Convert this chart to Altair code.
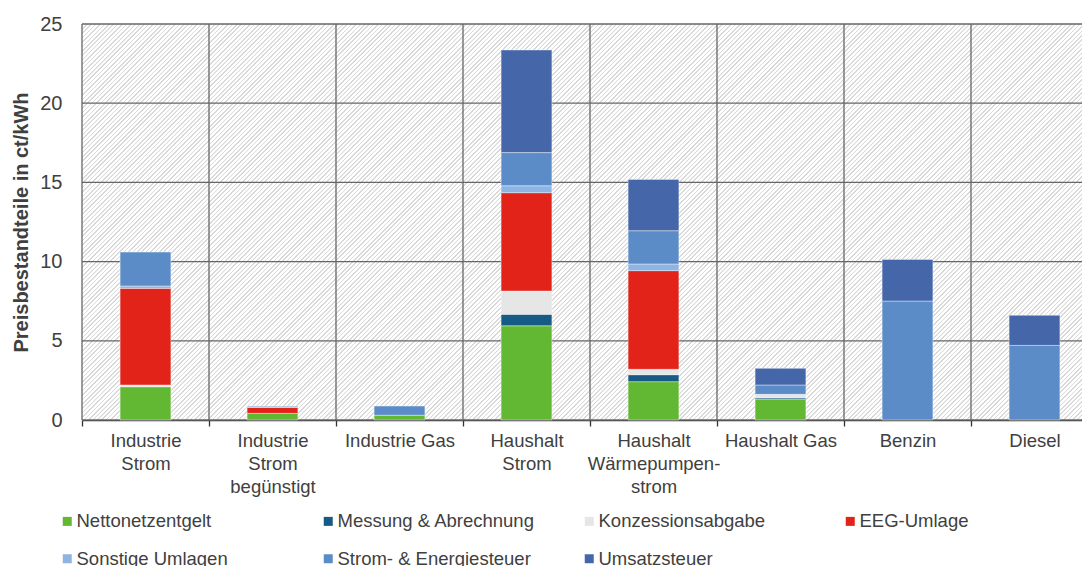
import altair as alt
import pandas as pd

# ---------------- data ----------------
categories = ["Industrie|Strom", "Industrie|Strom|begünstigt", "Industrie Gas",
              "Haushalt|Strom", "Haushalt|Wärmepumpen-|strom", "Haushalt Gas",
              "Benzin", "Diesel"]
components = ["Nettonetzentgelt", "Messung & Abrechnung", "Konzessionsabgabe",
              "EEG-Umlage", "Sonstige Umlagen", "Strom- & Energiesteuer", "Umsatzsteuer"]
colors = ["#62b733", "#165a86", "#e6e6e6", "#e2231a", "#8eb4e3", "#5b8cc8", "#4567aa"]

nettonetzentgelt = [2.10, 0.42, 0.30, 5.95, 2.42, 1.30, 0.00, 0.00]
messung = [0.00, 0.00, 0.00, 0.72, 0.44, 0.09, 0.00, 0.00]
konzession = [0.11, 0.00, 0.00, 1.47, 0.34, 0.23, 0.00, 0.00]
eeg_umlage = [6.10, 0.38, 0.00, 6.21, 6.23, 0.00, 0.00, 0.00]
sonstige = [0.15, 0.03, 0.00, 0.44, 0.42, 0.00, 0.00, 0.00]
stromsteuer = [2.14, 0.05, 0.58, 2.09, 2.10, 0.59, 7.51, 4.71]
umsatzsteuer = [0.00, 0.00, 0.00, 6.48, 3.24, 1.05, 2.63, 1.90]

y_ticks = [0, 5, 10, 15, 20, 25]

series = [nettonetzentgelt, messung, konzession, eeg_umlage, sonstige, stromsteuer, umsatzsteuer]
rows = []
for ci, (comp, vals) in enumerate(zip(components, series)):
    for cat, v in zip(categories, vals):
        if v > 0:
            rows.append({"cat": cat, "comp": comp, "idx": ci, "value": v})
df = pd.DataFrame(rows)

# ---------------- layout ----------------
W, H = 1016, 396
TXT = "#404040"
GRID = "#666666"
FONT = "Liberation Sans"

# diagonal hatch pattern for the plot background (decoration only)
r = H / W
s = (W + H) / (W * (1 + r * r))
period = 4.4
n = int((W + H) / period)
stops = []
for k in range(n):
    t0 = k / n
    t1 = (k + 0.36) / n
    stops += [
        alt.GradientStop(color="#ffffff", offset=t0),
        alt.GradientStop(color="#d9d9d9", offset=t0 + 0.0001),
        alt.GradientStop(color="#d9d9d9", offset=t1),
        alt.GradientStop(color="#ffffff", offset=t1 + 0.0001),
    ]
hatch = alt.LinearGradient(gradient="linear", stops=stops, x1=0, y1=0, x2=s, y2=s * r)

x_scale = alt.Scale(paddingInner=0, paddingOuter=0)
y_scale = alt.Scale(domain=[0, 25], nice=False)
x_axis = alt.Axis(labelExpr="split(datum.label, '|')", labelAngle=0,
                  labelFontSize=18.5, labelLineHeight=23, labelColor=TXT,
                  labelPadding=5, tickBand="extent", grid=False,
                  domainColor="#333333", domainWidth=1.5,
                  tickColor="#333333", tickSize=6, tickWidth=1.3, labelFont=FONT)
y_axis = alt.Axis(values=y_ticks, grid=False, domain=False, ticks=False,
                  tickSize=0, labelFontSize=20, labelColor=TXT,
                  labelPadding=20, titleFontSize=20, titleFontWeight="bold",
                  titleColor=TXT, titlePadding=8, labelFont=FONT, titleFont=FONT)
Y_TITLE = "Preisbestandteile in ct/kWh"

background = alt.Chart(pd.DataFrame({"a": [0]})).mark_rect(fill=hatch).encode(
    x=alt.value(0), x2=alt.value(W), y=alt.value(0), y2=alt.value(H)
)

hgrid = alt.Chart(pd.DataFrame({"value": y_ticks})).mark_rule(
    color=GRID, strokeWidth=1.3
).encode(y=alt.Y("value:Q", title=Y_TITLE, scale=y_scale, axis=y_axis))

vgrid = alt.Chart(pd.DataFrame({"cat": categories})).mark_rule(
    color=GRID, strokeWidth=1.3, xOffset=-W / len(categories) / 2
).encode(x=alt.X("cat:N", sort=categories, title=None, scale=x_scale, axis=x_axis))

bars = alt.Chart(df).mark_bar(
    width={"band": 0.4}, stroke="#ffffff", strokeWidth=0.8, strokeOpacity=0.5
).encode(
    x=alt.X("cat:N", sort=categories, title=None, scale=x_scale, axis=x_axis),
    y=alt.Y("value:Q", stack="zero", title=Y_TITLE, scale=y_scale, axis=y_axis),
    color=alt.Color("comp:N", scale=alt.Scale(domain=components, range=colors),
                    legend=alt.Legend(title=None, orient="none", legendX=-24, legendY=488,
                                      direction="horizontal", columns=4, gridAlign="all",
                                      columnPadding=45, rowPadding=18.5, symbolType="square",
                                      symbolSize=81, symbolStrokeWidth=0, labelFontSize=18.5,
                                      labelColor=TXT, labelLimit=400, labelOffset=0,
                                      labelFont=FONT, padding=0)),
    order=alt.Order("idx:Q", sort="ascending"),
)

chart = alt.layer(background, vgrid, hgrid, bars).properties(
    width=W, height=H,
    padding={"left": 74, "top": 16, "right": -16, "bottom": 150},
    autosize=alt.AutoSizeParams(type="none"),
).configure_view(stroke=None).configure(font=FONT)

chart.save("out.html", embed_options={"renderer": "svg", "actions": False})
